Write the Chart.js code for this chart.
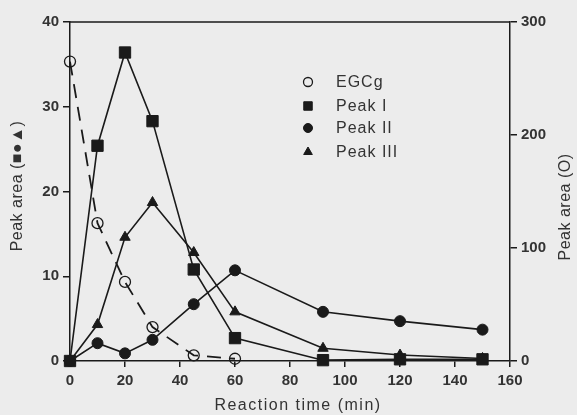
<!DOCTYPE html>
<html>
<head>
<meta charset="utf-8">
<script src="https://cdn.jsdelivr.net/npm/chart.js@4/dist/chart.umd.min.js"></script>
<style>
  html, body { margin: 0; padding: 0; background: #ececec; }
  #wrap { width: 577px; height: 415px; }
</style>
</head>
<body>
<div id="wrap"><canvas id="c" width="577" height="415"></canvas></div>
<script>
// ---- data ----
const times = [0, 10, 20, 30, 45, 60, 92, 120, 150];
const egcgTimes = [0, 10, 20, 30, 45, 60];
const egcg = [265, 122, 70, 30, 5, 2];           // right axis (O)
const peak1 = [0, 25.4, 36.4, 28.3, 10.8, 2.7, 0.1, 0.2, 0.2];
const peak2 = [0, 2.1, 0.9, 2.5, 6.7, 10.7, 5.8, 4.7, 3.7];
const peak3 = [0, 4.3, 14.6, 18.7, 12.8, 5.8, 1.5, 0.7, 0.3];
const xTicks = [0, 20, 40, 60, 80, 100, 120, 140, 160];
const leftTicks = [0, 10, 20, 30, 40];
const rightTicks = [0, 100, 200, 300];
const seriesNames = ['EGCg', 'Peak I', 'Peak II', 'Peak III'];
const xTitle = 'Reaction time (min)';
const leftTitle = 'Peak area (■●▲)';
const rightTitle = 'Peak area (O)';

const INK = '#1a1a1a';
const TXT = '#333333';
const FONT = '"Liberation Sans", Arial, "DejaVu Sans", sans-serif';

function pts(xs, ys) { return xs.map((x, i) => ({ x: x, y: ys[i] })); }

const bgPlugin = {
  id: 'bg',
  beforeDraw(chart) {
    const ctx = chart.ctx;
    ctx.save();
    ctx.fillStyle = '#ececec';
    ctx.fillRect(0, 0, chart.width, chart.height);
    ctx.restore();
  }
};

const legendRadius = [4.5, 6, 4.5, 5];

const decoPlugin = {
  id: 'deco',
  afterDraw(chart) {
    const ctx = chart.ctx;
    const a = chart.chartArea;
    ctx.save();
    // top frame line
    ctx.strokeStyle = INK;
    ctx.lineWidth = 1.5;
    ctx.beginPath();
    ctx.moveTo(a.left, a.top);
    ctx.lineTo(a.right, a.top);
    ctx.stroke();

    // titles
    ctx.fillStyle = TXT;
    ctx.font = '16px ' + FONT;
    ctx.textAlign = 'center';
    ctx.textBaseline = 'middle';
    try { ctx.letterSpacing = '1.5px'; } catch (e) {}
    ctx.fillText(xTitle, 298, 406);
    try { ctx.letterSpacing = '0.5px'; } catch (e) {}
    ctx.save();
    ctx.translate(18, 186);
    ctx.rotate(-Math.PI / 2);
    ctx.fillText(leftTitle, 0, 0);
    ctx.restore();
    ctx.save();
    ctx.translate(566, 207);
    ctx.rotate(-Math.PI / 2);
    ctx.fillText(rightTitle, 0, 0);
    ctx.restore();
    try { ctx.letterSpacing = '0px'; } catch (e) {}

    // legend
    const styles = chart.data.datasets;
    const rows = [82, 106, 128, 152];
    ctx.textAlign = 'left';
    ctx.font = '16px ' + FONT;
    try { ctx.letterSpacing = '1px'; } catch (e) {}
    seriesNames.forEach((name, i) => {
      const d = styles[i];
      const opts = {
        pointStyle: d.pointStyle,
        radius: legendRadius[i],
        borderWidth: d.pointBorderWidth || 1.5,
        rotation: 0
      };
      ctx.fillStyle = d.pointBackgroundColor;
      ctx.strokeStyle = INK;
      ctx.lineWidth = opts.borderWidth;
      Chart.helpers.drawPoint(ctx, opts, 308, rows[i]);
      ctx.fillStyle = TXT;
      ctx.fillText(name, 336, rows[i] + 1);
    });
    ctx.restore();
  }
};

const commonTick = { color: TXT, font: { family: FONT, size: 15, weight: 'bold' } };

new Chart(document.getElementById('c'), {
  type: 'scatter',
  data: {
    datasets: [
      {
        label: seriesNames[0], data: pts(egcgTimes, egcg), yAxisID: 'y2',
        showLine: true, borderColor: INK, borderWidth: 1.8, borderDash: [14, 9],
        pointStyle: 'circle', pointRadius: 5.5, pointBorderWidth: 1.3,
        pointBackgroundColor: 'rgba(0,0,0,0)', pointBorderColor: INK, clip: false
      },
      {
        label: seriesNames[1], data: pts(times, peak1), yAxisID: 'y',
        showLine: true, borderColor: INK, borderWidth: 1.6,
        pointStyle: 'rect', pointRadius: 8, pointBorderWidth: 1,
        pointBackgroundColor: INK, pointBorderColor: INK, clip: false
      },
      {
        label: seriesNames[2], data: pts(times, peak2), yAxisID: 'y',
        showLine: true, borderColor: INK, borderWidth: 1.6,
        pointStyle: 'circle', pointRadius: 5.5, pointBorderWidth: 1,
        pointBackgroundColor: INK, pointBorderColor: INK, clip: false
      },
      {
        label: seriesNames[3], data: pts(times, peak3), yAxisID: 'y',
        showLine: true, borderColor: INK, borderWidth: 1.6,
        pointStyle: 'triangle', pointRadius: 6, pointBorderWidth: 1,
        pointBackgroundColor: INK, pointBorderColor: INK, clip: false
      }
    ]
  },
  options: {
    responsive: false,
    animation: false,
    layout: { padding: { top: 22, left: 0, right: 0, bottom: 0 } },
    plugins: { legend: { display: false }, tooltip: { enabled: false } },
    scales: {
      x: {
        type: 'linear', min: 0, max: 160,
        afterBuildTicks: s => { s.ticks = xTicks.map(v => ({ value: v })); },
        afterFit: s => { s.height = 54; },
        ticks: Object.assign({ padding: 5, maxRotation: 0 }, commonTick),
        grid: { drawOnChartArea: false, tickLength: 6, color: INK, lineWidth: 1.5 },
        border: { color: INK, width: 1.5 }
      },
      y: {
        position: 'left', min: 0, max: 40,
        afterBuildTicks: s => { s.ticks = leftTicks.map(v => ({ value: v })); },
        afterFit: s => { s.width = 70; },
        ticks: Object.assign({ padding: 4 }, commonTick),
        grid: { drawOnChartArea: false, tickLength: 7, color: INK, lineWidth: 1.5 },
        border: { color: INK, width: 1.5 }
      },
      y2: {
        position: 'right', min: 0, max: 300,
        afterBuildTicks: s => { s.ticks = rightTicks.map(v => ({ value: v })); },
        afterFit: s => { s.width = 67; },
        ticks: Object.assign({ padding: 4 }, commonTick),
        grid: { drawOnChartArea: false, tickLength: 7, color: INK, lineWidth: 1.5 },
        border: { color: INK, width: 1.5 }
      }
    }
  },
  plugins: [bgPlugin, decoPlugin]
});
</script>
</body>
</html>
